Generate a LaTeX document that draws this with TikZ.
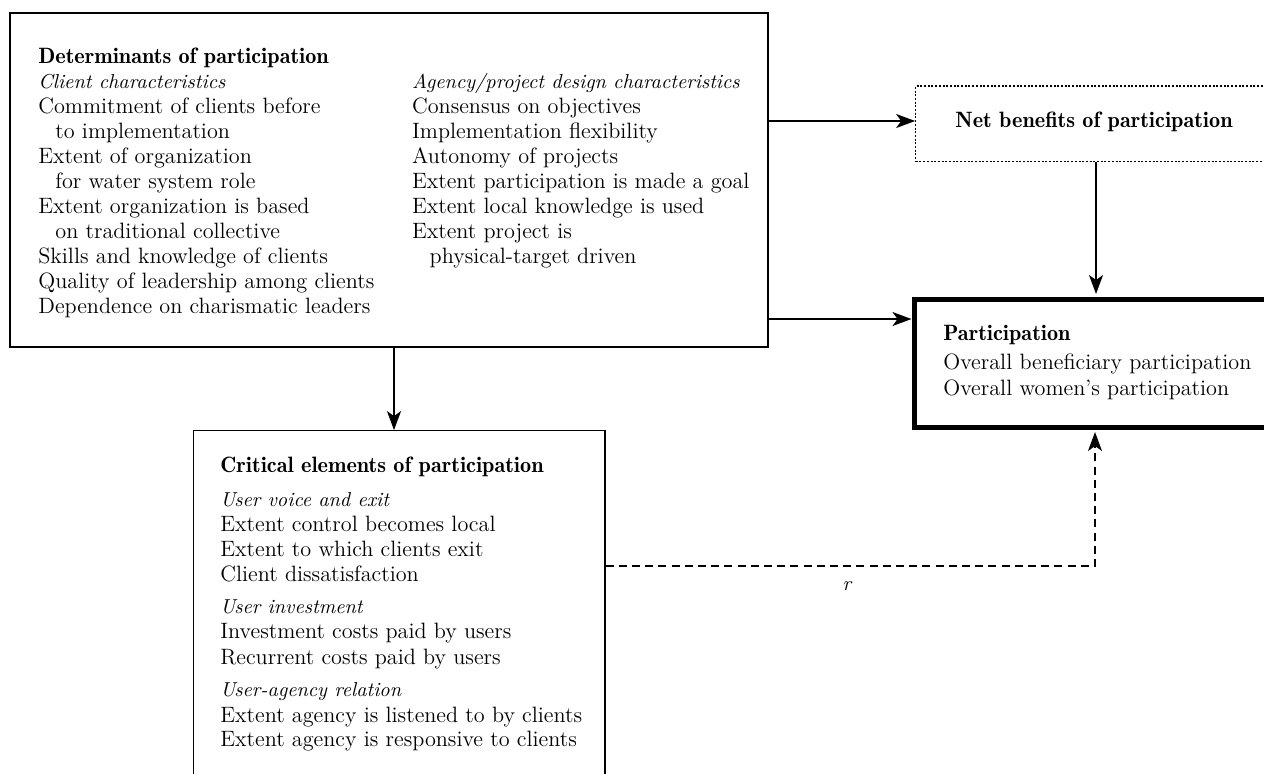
\documentclass[tikz,border=0pt]{standalone}
\usetikzlibrary{arrows.meta,fit}
\newcommand\bodyf{\fontsize{11.1}{13}\selectfont}
\newcommand\headf{\fontsize{11.1}{13}\fontseries{b}\selectfont}
\newcommand\itf{\fontsize{10.1}{12}\itshape}
\tikzset{
  txt/.style={anchor=base west, inner sep=0, font=\bodyf},
  hd/.style={anchor=base west, inner sep=0, font=\headf},
  ital/.style={anchor=base west, inner sep=0, font=\itf},
  arr/.style={line width=0.75pt, -{Stealth[length=9.5pt, width=7pt, inset=2.5pt]}},
  dasharr/.style={line width=0.65pt, dash pattern=on 4pt off 2.6pt, -{Stealth[length=9.5pt, width=7pt, inset=2.5pt]}},
  box/.style={inner sep=0, draw},
}
\begin{document}
\begin{tikzpicture}[x=0.5pt,y=-0.5pt]
\clip (0,0) rectangle (1264,773);
\fill[white] (0,0) rectangle (1264,773);
% boxes
\node[box, line width=1.1pt, fit={(10,12.7) (767.7,347)}] (det) {};
\node[box, line width=0.55pt, dash pattern=on 1pt off 0.85pt, fit={(915.7,86) (1290,161.7)}] (net) {};
\node[box, line width=2.5pt, fit={(914,299) (1290,427)}] (part) {};
\node[box, line width=0.6pt, fit={(193.3,430.7) (605,830)}] (crit) {};
% determinants text
\node[hd] (dh) at (38,63) {Determinants of participation};
\node[ital] (dl0) at (38,88) {Client characteristics};
\foreach \xx/\t [count=\i] in {38/Commitment of clients before, 55/to implementation, 38/Extent of organization, 55/for water system role, 38/Extent organization is based, 55/on traditional collective, 38/Skills and knowledge of clients, 38/Quality of leadership among clients, 38/Dependence on charismatic leaders}
  \node[txt] (dl\i) at (\xx,88+25*\i) {\t};
\node[ital] (dr0) at (411.7,88) {Agency/project design characteristics};
\foreach \xx/\t [count=\i] in {411.7/Consensus on objectives, 411.7/Implementation flexibility, 411.7/Autonomy of projects, 411.7/Extent participation is made a goal, 411.7/Extent local knowledge is used, 411.7/Extent project is, 429.3/physical-target driven}
  \node[txt] (dr\i) at (\xx,88+25*\i) {\t};
% net benefits
\node[anchor=base, inner sep=0, font=\headf] (nt) at (1094,127) {Net benefits of participation};
% participation
\node[hd] (ph) at (943,340) {Participation};
\node[txt] (p1) at (943,369) {Overall beneficiary participation};
\node[txt] (p2) at (943,395) {Overall women's participation};
% critical
\node[hd] (ch) at (220,472.7) {Critical elements of participation};
\node[ital] (c0) at (220,506) {User voice and exit};
\node[txt] (c1) at (220,531) {Extent control becomes local};
\node[txt] (c2) at (220,556) {Extent to which clients exit};
\node[txt] (c3) at (220,581) {Client dissatisfaction};
\node[ital] (c4) at (220,613.3) {User investment};
\node[txt] (c5) at (220,638.7) {Investment costs paid by users};
\node[txt] (c6) at (220,664) {Recurrent costs paid by users};
\node[ital] (c7) at (220,696.7) {User-agency relation};
\node[txt] (c8) at (220,722.7) {Extent agency is listened to by clients};
\node[txt] (c9) at (220,746.7) {Extent agency is responsive to clients};
% connectors
\draw[arr] (det.east |- 0,121) -- (net.west |- 0,121);
\draw[arr] (det.east |- 0,319) -- (part.west |- 0,319);
\draw[arr] (net.south -| 1096,0) -- ([yshift=1.25pt]part.north -| 1096,0);
\draw[arr] (det.south -| 394,0) -- (crit.north -| 394,0);
\coordinate (bend) at (1095,566);
\draw[dasharr] (crit.east |- bend) -- (bend) -- ([yshift=-1.25pt]part.south -| bend);
\node[anchor=base, inner sep=0, font=\itf] (r) at (847,590) {r};
\end{tikzpicture}
\end{document}
